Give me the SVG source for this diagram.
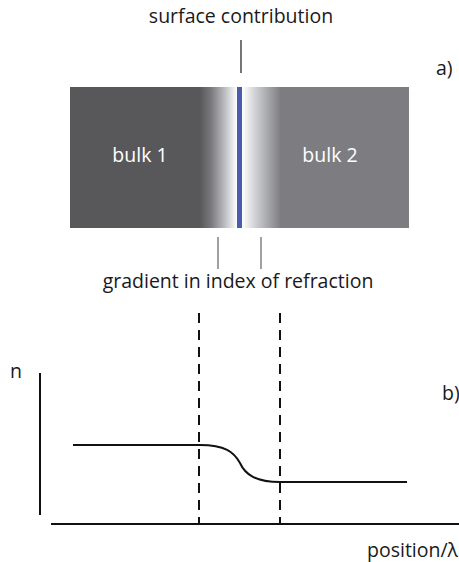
<svg xmlns="http://www.w3.org/2000/svg" width="459" height="562" viewBox="0 0 459 562">
<style>
.lbl{font-family:"Open Sans","Liberation Sans",sans-serif;font-size:19.5px;fill:#1a1a1a}
.wlbl{font-family:"Open Sans","Liberation Sans",sans-serif;font-size:19.5px;fill:#ffffff}
.thin{stroke:#1a1a1a;stroke-width:1.2;fill:none}
.gthin{stroke:#808080;stroke-width:1.5;fill:none}
.ax{stroke:#111;stroke-width:2;fill:none}
.dash{stroke:#111;stroke-width:2;stroke-dasharray:10 7;fill:none}
</style>
<defs>
<linearGradient id="gL" x1="0" x2="1" y1="0" y2="0">
<stop offset="0" stop-color="#58585a"/>
<stop offset="0.3" stop-color="#7a7a7e"/>
<stop offset="0.65" stop-color="#b8b9bd"/>
<stop offset="1" stop-color="#ffffff"/>
</linearGradient>
<linearGradient id="gR" x1="0" x2="1" y1="0" y2="0">
<stop offset="0" stop-color="#ffffff"/>
<stop offset="0.4" stop-color="#c8c9cc"/>
<stop offset="1" stop-color="#7d7d81"/>
</linearGradient>
</defs>
<rect width="459" height="562" fill="#ffffff"/>
<g id="panel-a">
<rect x="70" y="87" width="131" height="141" fill="#58585a"/>
<rect x="200" y="87" width="37" height="141" fill="url(#gL)"/>
<rect x="242" y="87" width="39" height="141" fill="url(#gR)"/>
<rect x="280" y="87" width="129" height="141" fill="#7d7d81"/>
<rect x="237" y="87" width="5" height="141" fill="#4b5cae"/>
</g>
<g id="bulk1"><text class="wlbl" x="140" y="162" text-anchor="middle">bulk 1</text></g>
<g id="bulk2"><text class="wlbl" x="330" y="162" text-anchor="middle">bulk 2</text></g>
<g id="surface"><text class="lbl" x="241" y="23" text-anchor="middle">surface contribution</text></g>
<g id="gradient"><text class="lbl" x="238" y="288" text-anchor="middle">gradient in index of refraction</text></g>
<g id="label-a"><text class="lbl" x="436" y="75">a)</text></g>
<g id="label-b"><text class="lbl" x="442" y="400">b)</text></g>
<g id="label-n"><text class="lbl" x="10" y="378">n</text></g>
<g id="label-x"><text class="lbl" x="367" y="557">position/λ</text></g>
<g id="connectors">
<line class="thin" x1="241" y1="40" x2="241" y2="73"/>
<line class="gthin" x1="218" y1="237" x2="218" y2="269"/>
<line class="gthin" x1="261" y1="237" x2="261" y2="269"/>
<line class="ax" x1="40" y1="373" x2="40" y2="515"/>
<line class="ax" x1="51" y1="524" x2="459" y2="524"/>
<line class="dash" x1="199" y1="313" x2="199" y2="523"/>
<line class="dash" x1="280" y1="313" x2="280" y2="523"/>
<path class="ax" d="M73 445 H200 C225 445 234 452 240 463 C245 474 255 482 280 482 H407"/>
</g>
</svg>
